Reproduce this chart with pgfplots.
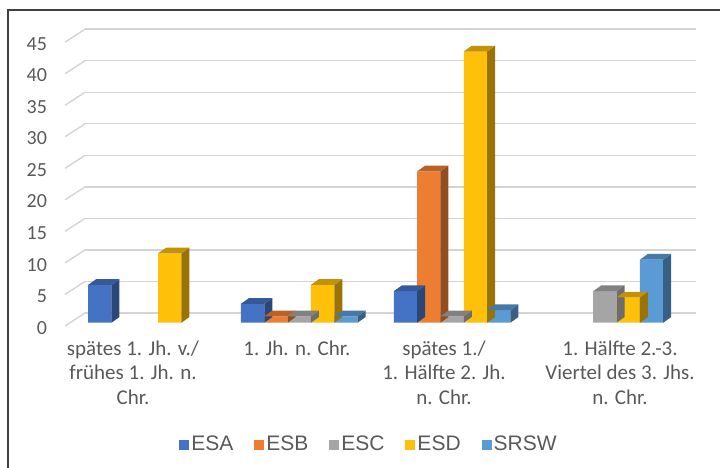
\documentclass[border=0pt]{standalone}
\usepackage{pgfplots}
\pgfplotsset{compat=1.18}
\usepackage{fontspec}
\setmainfont{Carlito}
\newfontfamily\legendfont{Liberation Sans}
\definecolor{labelgray}{RGB}{89,89,89}
\definecolor{gridc}{RGB}{212,212,212}
\definecolor{cA}{RGB}{68,114,196}
\definecolor{cB}{RGB}{237,125,49}
\definecolor{cC}{RGB}{165,165,165}
\definecolor{cD}{RGB}{255,192,10}
\definecolor{cE}{RGB}{91,155,213}
\newcommand\declarecube[3]{%
 \pgfdeclareplotmark{#1}{%
   \pgfmathsetmacro\hh{\rawy*6.30667}%
   \pgfsetfillcolor{#2}%
   \pgfpathmoveto{\pgfpoint{11.667pt}{0pt}}%
   \pgfpathlineto{\pgfpoint{19.667pt}{5.7pt}}%
   \pgfpathlineto{\pgfpoint{19.667pt}{5.7pt-\hh pt}}%
   \pgfpathlineto{\pgfpoint{11.667pt}{-\hh pt}}%
   \pgfpathclose\pgfusepath{fill}%
   \pgfsetfillcolor{#3}%
   \pgfpathmoveto{\pgfpoint{-11.667pt}{0pt}}%
   \pgfpathlineto{\pgfpoint{11.667pt}{0pt}}%
   \pgfpathlineto{\pgfpoint{19.667pt}{5.7pt}}%
   \pgfpathlineto{\pgfpoint{-3.667pt}{5.7pt}}%
   \pgfpathclose\pgfusepath{fill}%
 }}
\colorlet{cAs}{cA!62!black}\colorlet{cAt}{cA!78!black}
\colorlet{cBs}{cB!62!black}\colorlet{cBt}{cB!78!black}
\colorlet{cCs}{cC!66!black}\colorlet{cCt}{cC!78!black}
\colorlet{cDs}{cD!60!black}\colorlet{cDt}{cD!76!black}
\colorlet{cEs}{cE!62!black}\colorlet{cEt}{cE!78!black}
\declarecube{cubeA}{cAs}{cAt}
\declarecube{cubeB}{cBs}{cBt}
\declarecube{cubeC}{cCs}{cCt}
\declarecube{cubeD}{cDs}{cDt}
\declarecube{cubeE}{cEs}{cEt}
\pgfplotstableread{
x y
0 6
1 3
2 5
}\ESA
\pgfplotstableread{
x y
1 1
2 24
}\ESB
\pgfplotstableread{
x y
1 1
2 1
3 5
}\ESC
\pgfplotstableread{
x y
0 11
1 6
2 43
3 4
}\ESD
\pgfplotstableread{
x y
1 1
2 2
3 10
}\SRSW
\begin{document}
\begin{tikzpicture}
\path[use as bounding box] (0pt,0pt) rectangle (720pt,468pt);
\draw[color=black!75, line width=1.2pt] (8pt,0pt) -- (8pt,458pt) -- (720pt,458pt);
\begin{axis}[
  at={(70.1pt,145.3pt)}, anchor=south west,
  scale only axis, width=611.2pt, height=283.8pt,
  xmin=-0.5, xmax=3.5, ymin=0, ymax=45,
  clip=false,
  axis lines*=left, axis line style={draw=none}, major tick length=0pt, tick style={draw=none},
  ytick={0,5,...,45},
  xtick={-0.088,0.985,1.947,3.099},
  xticklabels={{spätes 1. Jh. v./\\frühes 1. Jh. n.\\Chr.},{1. Jh. n. Chr.},{spätes 1./\\1. Hälfte 2. Jh.\\n. Chr.},{1. Hälfte 2.-3.\\Viertel des 3. Jhs.\\n. Chr.}},
  /pgf/number format/assume math mode=true,
  yticklabel style={font=\fontsize{20}{24}\selectfont, text=labelgray, anchor=east, inner sep=0pt, xshift=-23pt, yshift=-5pt},
  xticklabel style={font=\fontsize{21}{24.5}\selectfont, text=labelgray, anchor=north, align=center, inner sep=0pt, yshift=-18pt},
  legend columns=5,
  legend style={at={(0.4890,-0.4274)}, anchor=center, draw=none, fill=none,
    font=\legendfont\fontsize{21}{25}\selectfont, text=labelgray,
    /tikz/every even column/.append style={column sep=19pt}, nodes={inner sep=2pt}},
  legend image code/.code={\fill[#1] (0pt,-6pt) rectangle (10pt,4pt);},
]
\pgfplotsinvokeforeach{0,5,...,45}{
  \draw[gridc, line width=1.4pt] ([shift={(15pt,9.75pt)}]axis cs:-0.5,#1) -- ([shift={(15pt,9.75pt)}]axis cs:3.5,#1);
  \draw[gridc, line width=1.4pt] ([shift={(-5pt,-3.25pt)}]axis cs:-0.5,#1) -- ([shift={(15pt,9.75pt)}]axis cs:-0.5,#1);
}
\addplot[only marks, mark=cubeA, mark options={xshift=-46.67pt}, visualization depends on={rawy \as \rawy}, forget plot] table[x=x,y=y] {\ESA};
\addplot[ybar, bar width=23.33pt, bar shift=-46.67pt, fill=cA, draw=none] table[x=x,y=y] {\ESA};
\addplot[only marks, mark=cubeB, mark options={xshift=-23.33pt}, visualization depends on={rawy \as \rawy}, forget plot] table[x=x,y=y] {\ESB};
\addplot[ybar, bar width=23.33pt, bar shift=-23.33pt, fill=cB, draw=none] table[x=x,y=y] {\ESB};
\addplot[only marks, mark=cubeC, mark options={xshift=0pt}, visualization depends on={rawy \as \rawy}, forget plot] table[x=x,y=y] {\ESC};
\addplot[ybar, bar width=23.33pt, bar shift=0pt, fill=cC, draw=none] table[x=x,y=y] {\ESC};
\addplot[only marks, mark=cubeD, mark options={xshift=23.33pt}, visualization depends on={rawy \as \rawy}, forget plot] table[x=x,y=y] {\ESD};
\addplot[ybar, bar width=23.33pt, bar shift=23.33pt, fill=cD, draw=none] table[x=x,y=y] {\ESD};
\addplot[only marks, mark=cubeE, mark options={xshift=46.67pt}, visualization depends on={rawy \as \rawy}, forget plot] table[x=x,y=y] {\SRSW};
\addplot[ybar, bar width=23.33pt, bar shift=46.67pt, fill=cE, draw=none] table[x=x,y=y] {\SRSW};
\legend{ESA,ESB,ESC,ESD,SRSW}
\end{axis}
\end{tikzpicture}
\end{document}
